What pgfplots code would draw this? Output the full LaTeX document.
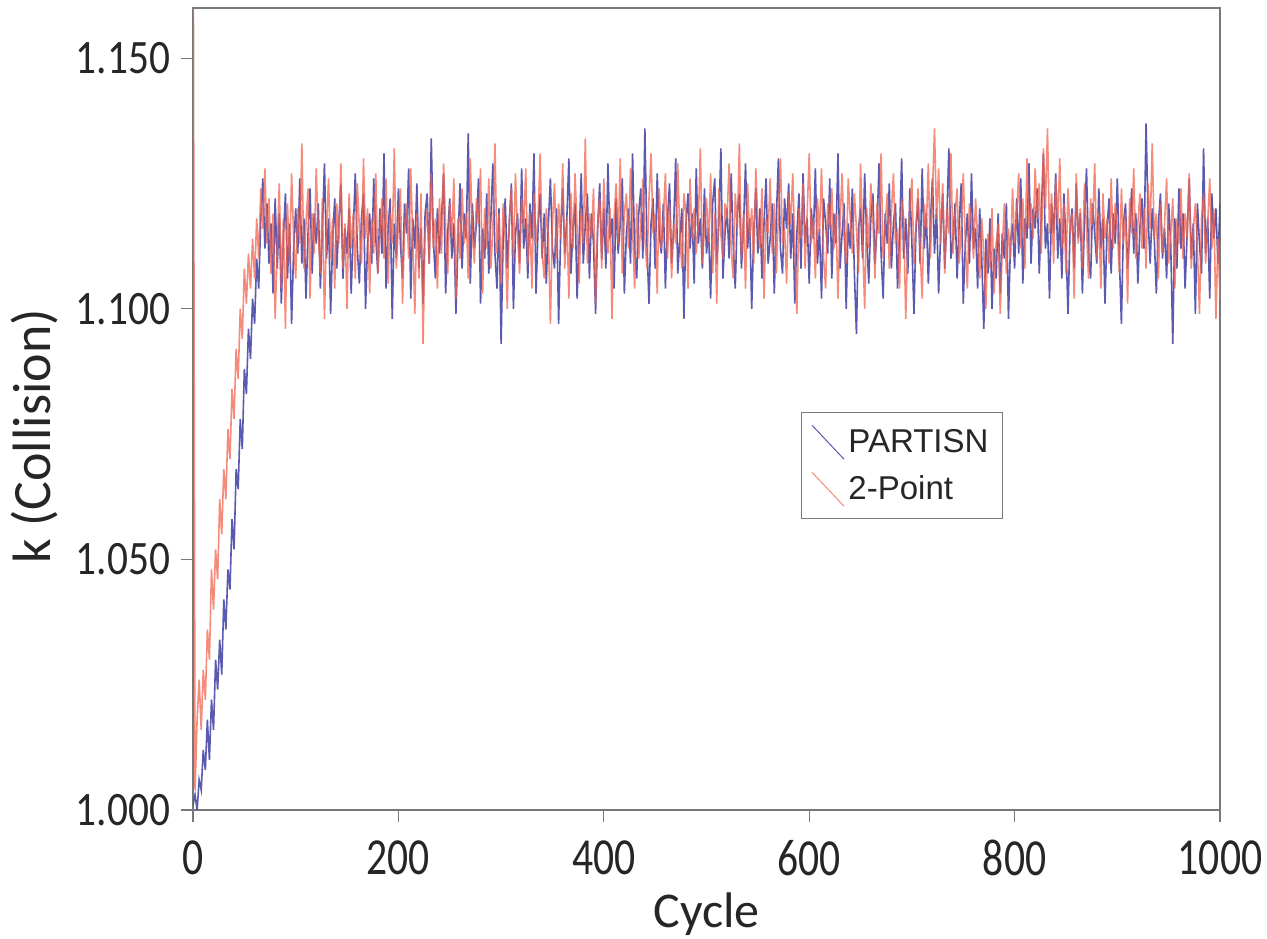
\documentclass[border=0pt]{standalone}
\usepackage{pgfplots}
\pgfplotsset{compat=1.18}
\usepackage{pgfplotstable}
\usepackage{graphicx}
\usepackage{fontspec}
\setmainfont{Carlito}
\newfontfamily\legfont{Liberation Sans}
\definecolor{pblue}{RGB}{72,72,168}
\definecolor{tred}{RGB}{242,100,78}
\definecolor{axgray}{RGB}{120,120,120}
\pgfplotstableread{
c p t
0 1.001 1.200
2 1.003 1.004
4 1.000 1.018
6 1.006 1.026
8 1.004 1.016
10 1.012 1.028
12 1.008 1.022
14 1.018 1.036
16 1.010 1.030
18 1.022 1.048
20 1.016 1.040
22 1.030 1.052
24 1.024 1.046
26 1.034 1.062
28 1.027 1.055
30 1.042 1.068
32 1.036 1.062
34 1.048 1.076
36 1.044 1.070
38 1.058 1.084
40 1.052 1.078
42 1.068 1.092
44 1.064 1.086
46 1.078 1.100
48 1.072 1.094
50 1.088 1.108
52 1.083 1.101
54 1.096 1.111
56 1.090 1.104
58 1.102 1.114
60 1.097 1.106
62 1.110 1.118
64 1.104 1.110
66 1.118 1.124
68 1.126 1.116
70 1.112 1.128
72 1.121 1.113
74 1.109 1.122
76 1.117 1.107
78 1.103 1.119
80 1.122 1.098
82 1.108 1.112
84 1.119 1.125
86 1.101 1.104
88 1.114 1.118
90 1.123 1.096
92 1.106 1.121
94 1.117 1.109
96 1.097 1.127
98 1.112 1.114
100 1.120 1.106
102 1.111 1.120
104 1.126 1.113
106 1.109 1.133
108 1.118 1.108
110 1.102 1.117
112 1.115 1.124
114 1.124 1.102
116 1.107 1.119
118 1.119 1.111
120 1.113 1.128
122 1.121 1.115
124 1.104 1.107
126 1.116 1.122
128 1.129 1.098
130 1.110 1.116
132 1.118 1.126
134 1.099 1.110
136 1.114 1.118
138 1.122 1.104
140 1.108 1.121
142 1.117 1.113
144 1.125 1.129
146 1.106 1.108
148 1.116 1.117
150 1.111 1.100
152 1.120 1.123
154 1.103 1.112
156 1.115 1.119
158 1.127 1.106
160 1.112 1.125
162 1.105 1.116
164 1.118 1.109
166 1.123 1.130
168 1.100 1.114
170 1.113 1.120
172 1.119 1.103
174 1.109 1.118
176 1.126 1.111
178 1.114 1.127
180 1.107 1.107
182 1.120 1.115
184 1.111 1.122
186 1.131 1.110
188 1.104 1.126
190 1.116 1.105
192 1.122 1.119
194 1.098 1.113
196 1.117 1.132
198 1.110 1.108
200 1.124 1.117
202 1.113 1.124
204 1.106 1.101
206 1.121 1.116
208 1.115 1.121
210 1.128 1.110
212 1.102 1.128
214 1.118 1.114
216 1.112 1.099
218 1.125 1.119
220 1.108 1.106
222 1.116 1.123
224 1.101 1.093
226 1.119 1.115
228 1.123 1.120
230 1.109 1.109
232 1.134 1.127
234 1.114 1.112
236 1.106 1.118
238 1.120 1.104
240 1.111 1.122
242 1.118 1.111
244 1.127 1.129
246 1.103 1.116
248 1.115 1.107
250 1.122 1.121
252 1.110 1.114
254 1.117 1.126
256 1.099 1.102
258 1.113 1.118
260 1.125 1.110
262 1.108 1.124
264 1.119 1.113
266 1.114 1.119
268 1.135 1.106
270 1.105 1.130
272 1.121 1.115
274 1.112 1.109
276 1.117 1.122
278 1.126 1.117
280 1.101 1.128
282 1.116 1.103
284 1.110 1.120
286 1.123 1.112
288 1.107 1.126
290 1.118 1.108
292 1.129 1.116
294 1.111 1.133
296 1.104 1.111
298 1.120 1.119
300 1.093 1.105
302 1.114 1.121
304 1.122 1.114
306 1.108 1.100
308 1.117 1.118
310 1.125 1.124
312 1.100 1.110
314 1.115 1.127
316 1.119 1.115
318 1.109 1.107
320 1.128 1.122
322 1.112 1.116
324 1.118 1.128
326 1.106 1.109
328 1.121 1.119
330 1.114 1.104
332 1.131 1.123
334 1.103 1.113
336 1.116 1.118
338 1.123 1.131
340 1.110 1.111
342 1.119 1.106
344 1.105 1.120
346 1.117 1.115
348 1.126 1.097
350 1.112 1.117
352 1.108 1.125
354 1.120 1.110
356 1.097 1.121
358 1.115 1.114
360 1.124 1.129
362 1.111 1.108
364 1.118 1.118
366 1.130 1.102
368 1.107 1.123
370 1.116 1.112
372 1.121 1.127
374 1.102 1.116
376 1.114 1.105
378 1.127 1.120
380 1.109 1.113
382 1.117 1.134
384 1.123 1.109
386 1.106 1.119
388 1.119 1.114
390 1.113 1.124
392 1.099 1.101
394 1.116 1.117
396 1.125 1.122
398 1.110 1.108
400 1.120 1.126
402 1.108 1.115
404 1.129 1.111
406 1.114 1.120
408 1.118 1.098
410 1.104 1.118
412 1.122 1.125
414 1.111 1.113
416 1.117 1.130
418 1.126 1.107
420 1.103 1.119
422 1.115 1.123
424 1.120 1.112
426 1.109 1.128
428 1.131 1.116
430 1.112 1.104
432 1.106 1.121
434 1.119 1.110
436 1.124 1.117
438 1.110 1.126
440 1.136 1.114
442 1.113 1.108
444 1.101 1.122
446 1.117 1.131
448 1.122 1.115
450 1.108 1.119
452 1.127 1.103
454 1.115 1.124
456 1.111 1.112
458 1.121 1.118
460 1.104 1.127
462 1.118 1.110
464 1.125 1.121
466 1.109 1.106
468 1.116 1.117
470 1.130 1.113
472 1.107 1.129
474 1.114 1.115
476 1.120 1.108
478 1.098 1.123
480 1.117 1.119
482 1.123 1.104
484 1.112 1.126
486 1.119 1.114
488 1.105 1.120
490 1.128 1.111
492 1.113 1.117
494 1.118 1.132
496 1.108 1.109
498 1.124 1.116
500 1.111 1.122
502 1.116 1.113
504 1.102 1.127
506 1.121 1.107
508 1.126 1.119
510 1.109 1.101
512 1.117 1.124
514 1.132 1.115
516 1.106 1.110
518 1.115 1.121
520 1.120 1.118
522 1.110 1.129
524 1.127 1.112
526 1.113 1.106
528 1.104 1.123
530 1.119 1.116
532 1.123 1.133
534 1.108 1.110
536 1.116 1.119
538 1.129 1.104
540 1.112 1.125
542 1.118 1.114
544 1.100 1.120
546 1.115 1.109
548 1.124 1.128
550 1.111 1.117
552 1.120 1.112
554 1.106 1.124
556 1.117 1.102
558 1.126 1.118
560 1.109 1.115
562 1.114 1.126
564 1.121 1.111
566 1.103 1.121
568 1.118 1.107
570 1.130 1.119
572 1.112 1.130
574 1.107 1.113
576 1.122 1.116
578 1.116 1.105
580 1.125 1.123
582 1.110 1.117
584 1.119 1.127
586 1.101 1.112
588 1.115 1.099
590 1.123 1.120
592 1.108 1.114
594 1.127 1.125
596 1.113 1.108
598 1.118 1.119
600 1.105 1.131
602 1.120 1.113
604 1.114 1.118
606 1.128 1.106
608 1.109 1.122
610 1.116 1.115
612 1.102 1.128
614 1.122 1.110
616 1.117 1.104
618 1.111 1.121
620 1.126 1.116
622 1.106 1.124
624 1.119 1.112
626 1.113 1.119
628 1.131 1.102
630 1.108 1.117
632 1.115 1.127
634 1.121 1.114
636 1.100 1.109
638 1.117 1.126
640 1.112 1.118
642 1.124 1.111
644 1.107 1.123
646 1.095 1.116
648 1.116 1.107
650 1.120 1.129
652 1.110 1.114
654 1.127 1.100
656 1.114 1.120
658 1.105 1.112
660 1.118 1.125
662 1.123 1.118
664 1.109 1.106
666 1.116 1.121
668 1.129 1.115
670 1.111 1.131
672 1.102 1.110
674 1.119 1.117
676 1.113 1.123
678 1.125 1.108
680 1.108 1.119
682 1.117 1.127
684 1.121 1.113
686 1.104 1.116
688 1.115 1.104
690 1.130 1.122
692 1.110 1.118
694 1.118 1.098
696 1.107 1.114
698 1.124 1.120
700 1.113 1.126
702 1.099 1.109
704 1.116 1.117
706 1.122 1.124
708 1.109 1.112
710 1.128 1.102
712 1.112 1.121
714 1.119 1.116
716 1.105 1.129
718 1.117 1.110
720 1.126 1.123
722 1.111 1.136
724 1.120 1.118
726 1.103 1.128
728 1.115 1.113
730 1.123 1.125
732 1.108 1.107
734 1.118 1.120
736 1.132 1.115
738 1.110 1.131
740 1.114 1.111
742 1.121 1.119
744 1.106 1.124
746 1.117 1.109
748 1.125 1.116
750 1.101 1.127
752 1.113 1.113
754 1.119 1.104
756 1.109 1.121
758 1.127 1.117
760 1.112 1.110
762 1.116 1.122
764 1.104 1.114
766 1.120 1.106
768 1.110 1.118
770 1.096 1.111
772 1.114 1.100
774 1.107 1.115
776 1.118 1.108
778 1.100 1.120
780 1.112 1.103
782 1.106 1.113
784 1.119 1.117
786 1.103 1.099
788 1.115 1.112
790 1.110 1.121
792 1.121 1.107
794 1.098 1.116
796 1.113 1.110
798 1.117 1.124
800 1.108 1.113
802 1.122 1.119
804 1.111 1.127
806 1.126 1.112
808 1.105 1.122
810 1.118 1.108
812 1.114 1.130
814 1.129 1.116
816 1.109 1.121
818 1.120 1.114
820 1.116 1.128
822 1.124 1.118
824 1.107 1.125
826 1.119 1.111
828 1.131 1.132
830 1.112 1.120
832 1.117 1.136
834 1.102 1.115
836 1.121 1.123
838 1.115 1.109
840 1.127 1.126
842 1.110 1.117
844 1.118 1.130
846 1.106 1.112
848 1.123 1.121
850 1.113 1.107
852 1.099 1.124
854 1.116 1.115
856 1.120 1.119
858 1.108 1.102
860 1.125 1.127
862 1.114 1.113
864 1.119 1.120
866 1.103 1.108
868 1.117 1.125
870 1.128 1.116
872 1.111 1.106
874 1.106 1.122
876 1.121 1.117
878 1.115 1.129
880 1.109 1.110
882 1.124 1.119
884 1.112 1.104
886 1.118 1.123
888 1.101 1.114
890 1.116 1.118
892 1.122 1.109
894 1.107 1.126
896 1.119 1.112
898 1.113 1.121
900 1.126 1.116
902 1.110 1.107
904 1.097 1.124
906 1.117 1.113
908 1.121 1.119
910 1.108 1.101
912 1.115 1.122
914 1.124 1.115
916 1.111 1.128
918 1.119 1.110
920 1.105 1.117
922 1.116 1.123
924 1.122 1.112
926 1.112 1.120
928 1.137 1.108
930 1.118 1.125
932 1.109 1.116
934 1.120 1.133
936 1.114 1.114
938 1.103 1.119
940 1.117 1.106
942 1.123 1.121
944 1.110 1.111
946 1.116 1.117
948 1.106 1.126
950 1.121 1.109
952 1.113 1.115
954 1.093 1.122
956 1.118 1.104
958 1.108 1.118
960 1.124 1.113
962 1.112 1.124
964 1.119 1.110
966 1.104 1.119
968 1.115 1.114
970 1.126 1.127
972 1.110 1.108
974 1.117 1.116
976 1.099 1.121
978 1.121 1.112
980 1.113 1.099
982 1.107 1.118
984 1.132 1.123
986 1.111 1.109
988 1.118 1.117
990 1.102 1.126
992 1.123 1.112
994 1.114 1.120
996 1.120 1.098
998 1.109 1.114
1000 1.121 1.102
}\data

\begin{document}
\begin{tikzpicture}
\begin{axis}[
  scale only axis, width=513.5pt, height=401pt,
  xmin=0, xmax=1000, ymin=1.000, ymax=1.160,
  xtick={0,200,400,600,800,1000},
  ytick={1.000,1.050,1.100,1.150},
  tick align=outside, xtick pos=bottom, ytick pos=left,
  major tick length=6pt,
  axis line style={axgray, line width=0.6pt},
  every tick/.style={axgray, line width=0.6pt},
  /pgf/number format/assume math mode=true,
  xticklabel={\scalebox{0.8}[1]{\pgfmathprintnumber[1000 sep={}]{\tick}}},
  yticklabel={\scalebox{0.86}[1]{\pgfmathprintnumber[fixed,fixed zerofill,precision=3]{\tick}}},
  xticklabel style={font=\fontsize{26}{30}\selectfont, text=black!85, inner sep=0pt, yshift=-9pt},
  yticklabel style={font=\fontsize{24}{28}\selectfont, text=black!85, xshift=-2pt},
  xlabel={Cycle}, ylabel={k (Collision)},
  xlabel style={font=\fontsize{25}{29}\selectfont, text=black!85, at={(axis description cs:0.5,-0.13)}, anchor=center},
  ylabel style={font=\fontsize{27}{31}\selectfont, text=black!85, at={(axis description cs:-0.154,0.466)}, anchor=center},
  legend style={at={(rel axis cs:0.592,0.496)}, anchor=north west, draw=axgray, line width=0.5pt,
    font=\legfont\fontsize{16.5}{19}\selectfont, text=black!85, inner xsep=5pt, inner ysep=6pt, row sep=6pt},
  legend cell align=left,
  legend image code/.code={\draw[#1, line width=0.5pt] (0pt,8.5pt) -- (16pt,-8.5pt);},
]
\addplot[pblue, line width=0.8pt, opacity=0.9, no markers] table[x=c, y=p]{\data};
\addlegendentry{PARTISN}
\addplot[tred, line width=0.8pt, opacity=0.75, no markers] table[x=c, y=t]{\data};
\addlegendentry{2-Point}
\end{axis}
\pgfresetboundingbox
\path ([xshift=-96.5pt,yshift=-64.5pt]current axis.south west) rectangle ([xshift=23.5pt,yshift=4pt]current axis.north east);
\end{tikzpicture}
\end{document}
